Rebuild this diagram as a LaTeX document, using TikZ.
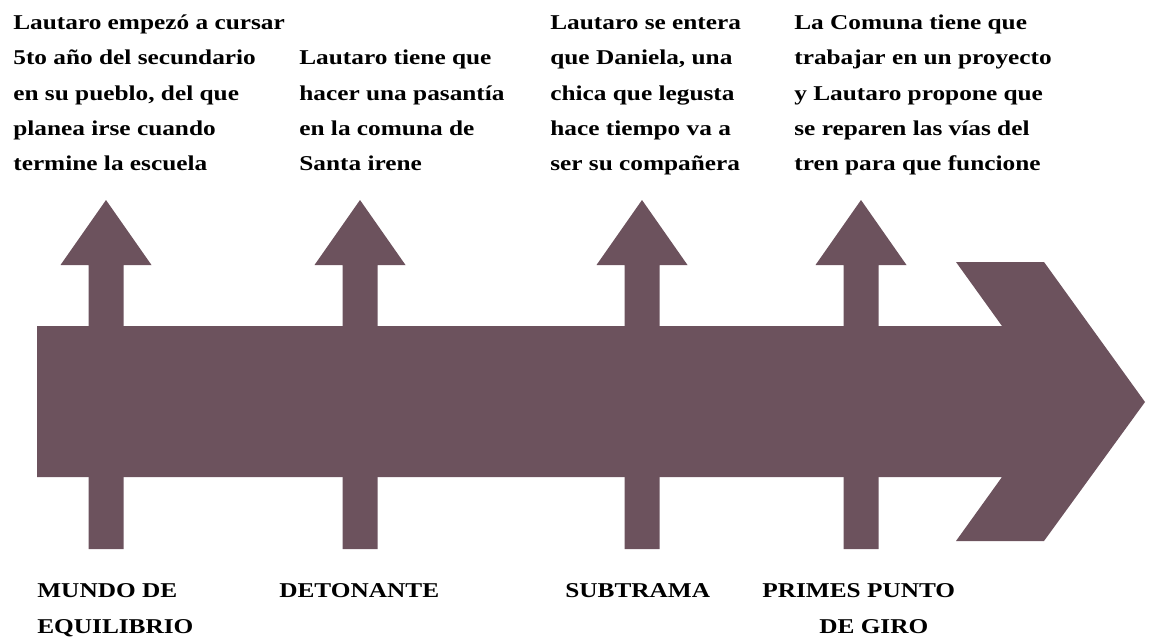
\documentclass[tikz,border=0pt]{standalone}
\usepackage{fontspec}
\setmainfont{Liberation Serif}[FakeStretch=1.2]
\usepackage{xcolor}
\usepackage{tikz}
\definecolor{trama}{RGB}{108,82,93}

\begin{document}
\begin{tikzpicture}[x=0.02cm,y=-0.02cm,
    txt/.style={anchor=base west,inner sep=0pt,align=left,font=\bfseries\fontsize{12}{20.1}\selectfont}]
      \useasboundingbox (0,0) rectangle (1150,639);
      \foreach \x in {106,360,642,861}
        \fill[trama] (\x-17.5,549) -- (\x-17.5,265) -- (\x-45.5,265) -- (\x,200)
          -- (\x+45.5,265) -- (\x+17.5,265) -- (\x+17.5,549) -- cycle;
      \fill[trama] (37,326) -- (1002,326) -- (956,262) -- (1044,262) -- (1145,402)
        -- (1044,541) -- (956,541) -- (1002,477) -- (37,477) -- cycle;
      % hechos (anclados en la ultima linea)
      \node[txt] (hecho1) at (13,170.8) {Lautaro empezó a cursar\\5to año del secundario\\en su pueblo, del que\\planea irse cuando\\termine la escuela};
      \node[txt] (hecho2) at (299,170.8) {Lautaro tiene que\\hacer una pasantía\\en la comuna de\\Santa irene};
      \node[txt] (hecho3) at (550,170.8) {Lautaro se entera\\que Daniela, una\\chica que legusta\\hace tiempo va a\\ser su compañera};
      \node[txt] (hecho4) at (794,170.8) {La Comuna tiene que\\trabajar en un proyecto\\y Lautaro propone que\\se reparen las vías del\\tren para que funcione};
      % etapas
      \node[txt] (equilibrio) at (37,633) {MUNDO DE\\EQUILIBRIO};
      \node[txt] (detonante) at (279,597) {DETONANTE};
      \node[txt] (subtrama) at (565,597) {SUBTRAMA};
      \node[txt] (giro) at (762,633) {PRIMES PUNTO\\\hspace*{1.14cm}DE GIRO};
    \end{tikzpicture}
\end{document}
